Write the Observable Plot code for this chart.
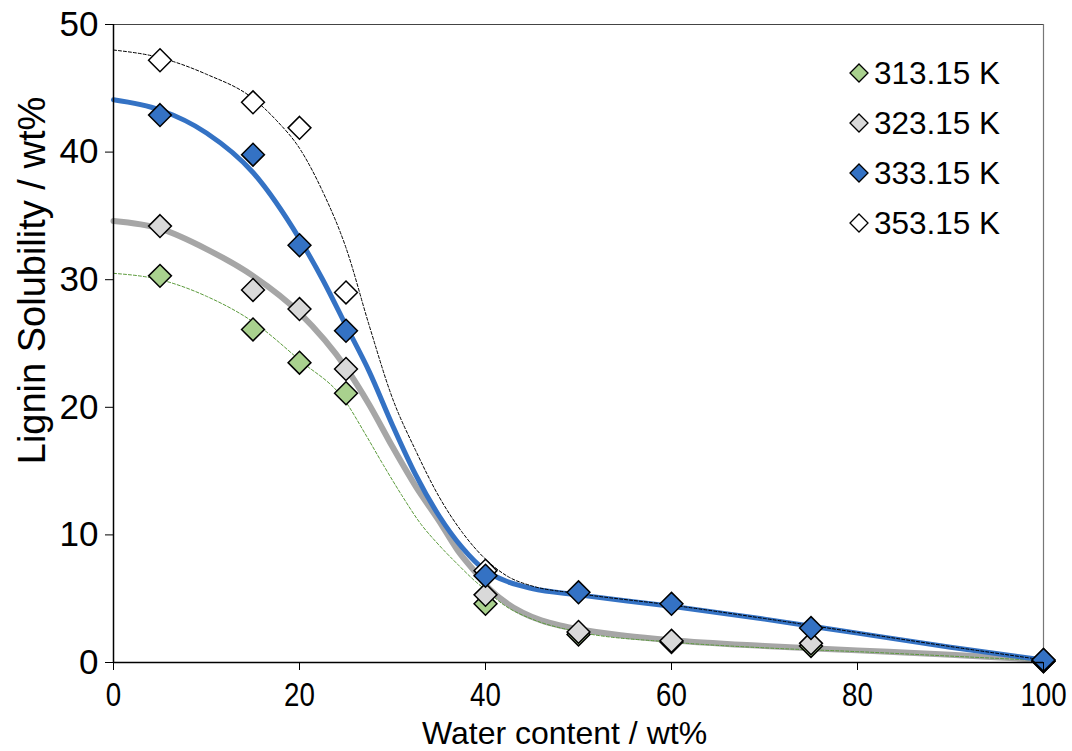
<!DOCTYPE html>
<html>
<head>
<meta charset="utf-8">
<script src="https://cdn.jsdelivr.net/npm/d3@7"></script>
<script src="https://cdn.jsdelivr.net/npm/@observablehq/plot@0.6"></script>
<style>
  body { margin: 0; background: #fff; }
  #wrap { position: relative; width: 1072px; height: 751px; overflow: hidden; font-family: "Liberation Sans", Arial, sans-serif; }
  #legend { position: absolute; left: 848px; top: 48px; }
  .item { display: flex; align-items: center; height: 50px; font-size: 31.5px; color: #000; }
  .item svg { margin-right: 4px; }
</style>
</head>
<body>
<div id="wrap"><div id="chart"></div><div id="legend"></div></div>
<script>
// Measured points
const series = ["313.15 K", "323.15 K", "333.15 K", "353.15 K"];
const fills = ["#a9d18e", "#d9d9d9", "#3472c4", "#ffffff"];
const xs = [5, 15, 20, 25, 40, 50, 60, 75, 100];
const s313 = [30.3, 26.1, 23.5, 21.1, 4.6, 2.2, 1.6, 1.3, 0.1];
const s323 = [34.2, 29.2, 27.7, 23.0, 5.3, 2.4, 1.7, 1.5, 0.1];
const s333 = [42.9, 39.8, 32.7, 26.0, 6.8, 5.5, 4.6, 2.7, 0.2];
const xs353 = [5, 15, 20, 25, 40, 100];
const s353 = [47.2, 43.9, 41.9, 29.0, 7.2, 0.2];

// Fitted curves
const fitX313 = [0, 5, 10, 15, 20, 25, 27, 29, 31, 33, 35, 37, 39, 40, 42, 45, 50, 60, 70, 80, 90, 100];
const fit313 = [30.5, 30.0, 28.7, 26.7, 23.7, 20.4, 18.0, 15.5, 13.1, 10.9, 9.2, 7.7, 6.3, 5.7, 4.5, 3.4, 2.4, 1.6, 1.15, 0.85, 0.5, 0.15];
const fitX323 = [0, 5, 10, 15, 20, 25, 27.5, 30, 32.5, 35, 37, 39, 40, 42, 44, 46, 48, 50, 55, 60, 70, 80, 90, 100];
const fit323 = [34.6, 34.0, 32.4, 30.3, 27.4, 23.1, 20.2, 16.9, 13.8, 11.1, 8.8, 7.0, 6.1, 4.8, 3.9, 3.3, 2.9, 2.6, 2.1, 1.75, 1.3, 0.95, 0.6, 0.2];
const fitX333 = [0, 5, 10, 15, 20, 22.5, 25, 27.5, 30, 32.5, 35, 37.5, 40, 42.5, 45, 50, 60, 70, 80, 90, 100];
const fit333 = [44.1, 43.3, 41.5, 38.4, 33.2, 30.0, 26.4, 22.8, 18.6, 14.7, 11.5, 9.0, 7.2, 6.3, 5.8, 5.3, 4.4, 3.4, 2.3, 1.2, 0.2];
const fitX353 = [0, 5, 10, 15, 17.5, 20, 22.5, 25, 27.5, 30, 32.5, 35, 37.5, 40, 42.5, 45, 50, 60, 70, 80, 90, 100];
const fit353 = [48.0, 47.4, 46.1, 44.2, 42.5, 40.3, 36.9, 32.5, 26.4, 20.7, 16.6, 13.0, 10.2, 8.1, 6.7, 6.0, 5.4, 4.5, 3.45, 2.35, 1.25, 0.2];

const xTicks = [0, 20, 40, 60, 80, 100];
const yTicks = [0, 10, 20, 30, 40, 50];
const xTitle = "Water content / wt%";
const yTitle = "Lignin Solubility / wt%";

const pts = (X, Y) => X.map((x, i) => ({x, y: Y[i]}));
const font = "Liberation Sans, Arial, sans-serif";

const chart = Plot.plot({
  width: 1072,
  height: 751,
  marginLeft: 113,
  marginRight: 29,
  marginTop: 24,
  marginBottom: 89,
  style: {fontFamily: font, background: "#fff", color: "#000"},
  x: {domain: [0, 100]},
  y: {domain: [0, 50]},
  marks: [
    Plot.ruleY([50], {stroke: "#444", strokeWidth: 1.2}),
    Plot.ruleX([100], {stroke: "#777", strokeWidth: 1.2}),
    Plot.line(pts(fitX323, fit323), {x: "x", y: "y", stroke: "#a6a6a6", strokeWidth: 6, curve: "monotone-x"}),
    Plot.line(pts(fitX313, fit313), {x: "x", y: "y", stroke: "#5a9a3a", strokeWidth: 1, strokeDasharray: "3,2", curve: "monotone-x"}),
    Plot.line(pts(fitX333, fit333), {x: "x", y: "y", stroke: "#3472c4", strokeWidth: 5, curve: "monotone-x"}),
    Plot.line(pts(fitX353, fit353), {x: "x", y: "y", stroke: "#000", strokeWidth: 1, strokeDasharray: "3,2", curve: "monotone-x"}),
    Plot.dot(pts(xs, s313), {x: "x", y: "y", symbol: "diamond2", r: 10.3, fill: fills[0], stroke: "#000", strokeWidth: 1.5}),
    Plot.dot(pts(xs, s323), {x: "x", y: "y", symbol: "diamond2", r: 10.3, fill: fills[1], stroke: "#000", strokeWidth: 1.5}),
    Plot.dot(pts(xs353, s353), {x: "x", y: "y", symbol: "diamond2", r: 10.3, fill: fills[3], stroke: "#000", strokeWidth: 1.5}),
    Plot.dot(pts(xs, s333), {x: "x", y: "y", symbol: "diamond2", r: 10.3, fill: fills[2], stroke: "#000", strokeWidth: 1.5}),
    Plot.axisX({ticks: xTicks, tickSize: 8, tickPadding: 12, fontSize: 33, stroke: "#000", label: null}),
    Plot.axisY({ticks: yTicks, tickSize: 8, tickPadding: 7, fontSize: 35, stroke: "#000", label: null}),
    Plot.text([xTitle], {frameAnchor: "bottom", text: d => d, fontSize: 32, textAnchor: "middle", dx: -14, dy: 81, lineAnchor: "bottom"}),
    Plot.text([yTitle], {frameAnchor: "left", text: d => d, fontSize: 38, textAnchor: "middle", rotate: -90, dx: -81, dy: -63, lineAnchor: "middle"}),
    Plot.ruleX([0], {stroke: "#000", strokeWidth: 1.5}),
    Plot.ruleY([0], {stroke: "#000", strokeWidth: 1.5})
  ]
});
document.getElementById("chart").appendChild(chart);

// Narrow the x tick labels as in the reference
d3.select(chart).selectAll('g[aria-label="x-axis tick label"] text').each(function () {
  const t = this.getAttribute("transform");
  if (t) this.setAttribute("transform", t + " scale(0.84,1)");
});

// Legend
const legend = d3.select("#legend");
series.forEach((name, i) => {
  const it = legend.append("div").attr("class", "item");
  const s = it.append("svg").attr("width", 22).attr("height", 22);
  s.append("path").attr("d", "M11,2L20,11L11,20L2,11Z").attr("fill", fills[i]).attr("stroke", "#000").attr("stroke-width", 1.3);
  it.append("span").text(name);
});
</script>
</body>
</html>
